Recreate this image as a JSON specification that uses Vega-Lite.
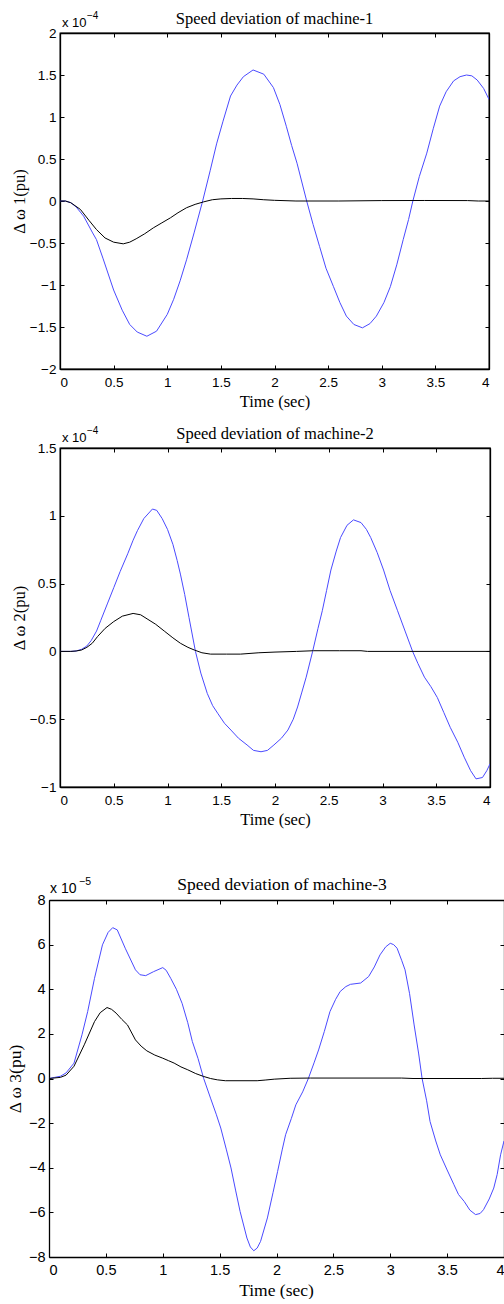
{
  "$schema": "https://vega.github.io/schema/vega-lite/v6.json",
  "background": "white",
  "padding": {"left": 6, "top": 9, "right": 0, "bottom": 0},
  "config": {
    "view": {"stroke": "black", "strokeWidth": 1.3},
    "axis": {
      "labelFont": "Liberation Sans", "labelFontSize": 13.5, "labelColor": "black",
      "titleFont": "Liberation Serif", "titleFontSize": 16.5, "titleFontWeight": "normal", "titleColor": "black",
      "domainColor": "black", "domainWidth": 1.3, "tickColor": "black", "tickSize": -4, "tickWidth": 1,
      "grid": false
    },
    "axisX": {"labelPadding": 10, "titlePadding": 5},
    "axisY": {"labelPadding": 8, "titlePadding": 2},
    "title": {"font": "Liberation Serif", "fontSize": 16.5, "fontWeight": "normal", "color": "black", "offset": -16, "baseline": "alphabetic"}
  },
  "datasets": {
    "m1": [
      {"t": 0, "v": 0, "series": "undamped"}, {"t": 0.05, "v": 0, "series": "undamped"}, {"t": 0.1, "v": -0.02, "series": "undamped"}, {"t": 0.15, "v": -0.07, "series": "undamped"}, {"t": 0.22, "v": -0.18, "series": "undamped"}, {"t": 0.3, "v": -0.37, "series": "undamped"}, {"t": 0.34, "v": -0.46, "series": "undamped"}, {"t": 0.4, "v": -0.68, "series": "undamped"}, {"t": 0.5, "v": -1.06, "series": "undamped"}, {"t": 0.58, "v": -1.3, "series": "undamped"}, {"t": 0.65, "v": -1.47, "series": "undamped"}, {"t": 0.72, "v": -1.56, "series": "undamped"}, {"t": 0.81, "v": -1.61, "series": "undamped"}, {"t": 0.9, "v": -1.55, "series": "undamped"}, {"t": 1.0, "v": -1.35, "series": "undamped"}, {"t": 1.06, "v": -1.17, "series": "undamped"}, {"t": 1.12, "v": -0.95, "series": "undamped"}, {"t": 1.18, "v": -0.7, "series": "undamped"}, {"t": 1.25, "v": -0.38, "series": "undamped"}, {"t": 1.33, "v": 0, "series": "undamped"}, {"t": 1.4, "v": 0.36, "series": "undamped"}, {"t": 1.46, "v": 0.68, "series": "undamped"}, {"t": 1.52, "v": 0.95, "series": "undamped"}, {"t": 1.59, "v": 1.25, "series": "undamped"}, {"t": 1.65, "v": 1.38, "series": "undamped"}, {"t": 1.71, "v": 1.48, "series": "undamped"}, {"t": 1.8, "v": 1.56, "series": "undamped"}, {"t": 1.9, "v": 1.51, "series": "undamped"}, {"t": 1.99, "v": 1.35, "series": "undamped"}, {"t": 2.05, "v": 1.15, "series": "undamped"}, {"t": 2.11, "v": 0.89, "series": "undamped"}, {"t": 2.16, "v": 0.66, "series": "undamped"}, {"t": 2.21, "v": 0.45, "series": "undamped"}, {"t": 2.3, "v": 0, "series": "undamped"}, {"t": 2.36, "v": -0.28, "series": "undamped"}, {"t": 2.42, "v": -0.54, "series": "undamped"}, {"t": 2.48, "v": -0.8, "series": "undamped"}, {"t": 2.55, "v": -1.02, "series": "undamped"}, {"t": 2.61, "v": -1.21, "series": "undamped"}, {"t": 2.67, "v": -1.37, "series": "undamped"}, {"t": 2.74, "v": -1.47, "series": "undamped"}, {"t": 2.82, "v": -1.51, "series": "undamped"}, {"t": 2.89, "v": -1.46, "series": "undamped"}, {"t": 2.95, "v": -1.37, "series": "undamped"}, {"t": 3.02, "v": -1.21, "series": "undamped"}, {"t": 3.08, "v": -1.02, "series": "undamped"}, {"t": 3.14, "v": -0.76, "series": "undamped"}, {"t": 3.2, "v": -0.46, "series": "undamped"}, {"t": 3.25, "v": -0.22, "series": "undamped"}, {"t": 3.29, "v": 0, "series": "undamped"}, {"t": 3.35, "v": 0.29, "series": "undamped"}, {"t": 3.42, "v": 0.57, "series": "undamped"}, {"t": 3.48, "v": 0.86, "series": "undamped"}, {"t": 3.54, "v": 1.13, "series": "undamped"}, {"t": 3.6, "v": 1.3, "series": "undamped"}, {"t": 3.67, "v": 1.43, "series": "undamped"}, {"t": 3.73, "v": 1.48, "series": "undamped"}, {"t": 3.79, "v": 1.5, "series": "undamped"}, {"t": 3.84, "v": 1.49, "series": "undamped"}, {"t": 3.89, "v": 1.44, "series": "undamped"}, {"t": 3.95, "v": 1.34, "series": "undamped"}, {"t": 4.0, "v": 1.21, "series": "undamped"},
      {"t": 0, "v": 0, "series": "damped"}, {"t": 0.05, "v": 0, "series": "damped"}, {"t": 0.1, "v": -0.02, "series": "damped"}, {"t": 0.19, "v": -0.1, "series": "damped"}, {"t": 0.27, "v": -0.23, "series": "damped"}, {"t": 0.34, "v": -0.34, "series": "damped"}, {"t": 0.42, "v": -0.44, "series": "damped"}, {"t": 0.5, "v": -0.49, "series": "damped"}, {"t": 0.59, "v": -0.51, "series": "damped"}, {"t": 0.65, "v": -0.49, "series": "damped"}, {"t": 0.71, "v": -0.45, "series": "damped"}, {"t": 0.79, "v": -0.39, "series": "damped"}, {"t": 0.87, "v": -0.32, "series": "damped"}, {"t": 0.95, "v": -0.26, "series": "damped"}, {"t": 1.03, "v": -0.2, "series": "damped"}, {"t": 1.1, "v": -0.14, "series": "damped"}, {"t": 1.18, "v": -0.08, "series": "damped"}, {"t": 1.26, "v": -0.04, "series": "damped"}, {"t": 1.34, "v": -0.01, "series": "damped"}, {"t": 1.42, "v": 0.015, "series": "damped"}, {"t": 1.5, "v": 0.025, "series": "damped"}, {"t": 1.6, "v": 0.03, "series": "damped"}, {"t": 1.7, "v": 0.03, "series": "damped"}, {"t": 1.8, "v": 0.025, "series": "damped"}, {"t": 1.9, "v": 0.015, "series": "damped"}, {"t": 2.0, "v": 0.008, "series": "damped"}, {"t": 2.2, "v": 0, "series": "damped"}, {"t": 2.6, "v": 0, "series": "damped"}, {"t": 3.0, "v": 0.005, "series": "damped"}, {"t": 3.4, "v": 0.006, "series": "damped"}, {"t": 3.8, "v": 0.005, "series": "damped"}, {"t": 3.9, "v": 0, "series": "damped"}, {"t": 4.0, "v": 0, "series": "damped"}
    ],
    "m2": [
      {"t": 0, "v": 0, "series": "undamped"}, {"t": 0.1, "v": 0, "series": "undamped"}, {"t": 0.15, "v": 0.003, "series": "undamped"}, {"t": 0.2, "v": 0.015, "series": "undamped"}, {"t": 0.25, "v": 0.04, "series": "undamped"}, {"t": 0.29, "v": 0.08, "series": "undamped"}, {"t": 0.34, "v": 0.15, "series": "undamped"}, {"t": 0.38, "v": 0.23, "series": "undamped"}, {"t": 0.44, "v": 0.35, "series": "undamped"}, {"t": 0.5, "v": 0.47, "series": "undamped"}, {"t": 0.56, "v": 0.59, "series": "undamped"}, {"t": 0.63, "v": 0.72, "series": "undamped"}, {"t": 0.68, "v": 0.82, "series": "undamped"}, {"t": 0.72, "v": 0.89, "series": "undamped"}, {"t": 0.78, "v": 0.98, "series": "undamped"}, {"t": 0.86, "v": 1.05, "series": "undamped"}, {"t": 0.9, "v": 1.04, "series": "undamped"}, {"t": 0.95, "v": 0.98, "series": "undamped"}, {"t": 1.0, "v": 0.9, "series": "undamped"}, {"t": 1.05, "v": 0.79, "series": "undamped"}, {"t": 1.09, "v": 0.67, "series": "undamped"}, {"t": 1.12, "v": 0.57, "series": "undamped"}, {"t": 1.16, "v": 0.42, "series": "undamped"}, {"t": 1.2, "v": 0.25, "series": "undamped"}, {"t": 1.26, "v": 0, "series": "undamped"}, {"t": 1.31, "v": -0.16, "series": "undamped"}, {"t": 1.37, "v": -0.31, "series": "undamped"}, {"t": 1.42, "v": -0.4, "series": "undamped"}, {"t": 1.47, "v": -0.46, "series": "undamped"}, {"t": 1.53, "v": -0.53, "series": "undamped"}, {"t": 1.59, "v": -0.58, "series": "undamped"}, {"t": 1.66, "v": -0.64, "series": "undamped"}, {"t": 1.74, "v": -0.69, "series": "undamped"}, {"t": 1.8, "v": -0.73, "series": "undamped"}, {"t": 1.87, "v": -0.74, "series": "undamped"}, {"t": 1.93, "v": -0.73, "series": "undamped"}, {"t": 1.99, "v": -0.69, "series": "undamped"}, {"t": 2.06, "v": -0.64, "series": "undamped"}, {"t": 2.12, "v": -0.58, "series": "undamped"}, {"t": 2.17, "v": -0.5, "series": "undamped"}, {"t": 2.21, "v": -0.41, "series": "undamped"}, {"t": 2.25, "v": -0.3, "series": "undamped"}, {"t": 2.29, "v": -0.19, "series": "undamped"}, {"t": 2.35, "v": 0, "series": "undamped"}, {"t": 2.4, "v": 0.17, "series": "undamped"}, {"t": 2.44, "v": 0.3, "series": "undamped"}, {"t": 2.48, "v": 0.45, "series": "undamped"}, {"t": 2.52, "v": 0.6, "series": "undamped"}, {"t": 2.57, "v": 0.74, "series": "undamped"}, {"t": 2.61, "v": 0.84, "series": "undamped"}, {"t": 2.67, "v": 0.93, "series": "undamped"}, {"t": 2.73, "v": 0.97, "series": "undamped"}, {"t": 2.8, "v": 0.95, "series": "undamped"}, {"t": 2.85, "v": 0.9, "series": "undamped"}, {"t": 2.89, "v": 0.84, "series": "undamped"}, {"t": 2.95, "v": 0.73, "series": "undamped"}, {"t": 3.01, "v": 0.6, "series": "undamped"}, {"t": 3.07, "v": 0.45, "series": "undamped"}, {"t": 3.14, "v": 0.3, "series": "undamped"}, {"t": 3.21, "v": 0.15, "series": "undamped"}, {"t": 3.28, "v": 0, "series": "undamped"}, {"t": 3.33, "v": -0.09, "series": "undamped"}, {"t": 3.39, "v": -0.19, "series": "undamped"}, {"t": 3.45, "v": -0.26, "series": "undamped"}, {"t": 3.51, "v": -0.34, "series": "undamped"}, {"t": 3.57, "v": -0.45, "series": "undamped"}, {"t": 3.63, "v": -0.56, "series": "undamped"}, {"t": 3.7, "v": -0.67, "series": "undamped"}, {"t": 3.76, "v": -0.78, "series": "undamped"}, {"t": 3.82, "v": -0.88, "series": "undamped"}, {"t": 3.87, "v": -0.94, "series": "undamped"}, {"t": 3.93, "v": -0.93, "series": "undamped"}, {"t": 3.97, "v": -0.88, "series": "undamped"}, {"t": 4.0, "v": -0.83, "series": "undamped"},
      {"t": 0, "v": 0, "series": "damped"}, {"t": 0.1, "v": 0, "series": "damped"}, {"t": 0.15, "v": 0.003, "series": "damped"}, {"t": 0.2, "v": 0.01, "series": "damped"}, {"t": 0.25, "v": 0.03, "series": "damped"}, {"t": 0.3, "v": 0.06, "series": "damped"}, {"t": 0.35, "v": 0.11, "series": "damped"}, {"t": 0.42, "v": 0.17, "series": "damped"}, {"t": 0.5, "v": 0.22, "series": "damped"}, {"t": 0.58, "v": 0.26, "series": "damped"}, {"t": 0.68, "v": 0.28, "series": "damped"}, {"t": 0.75, "v": 0.27, "series": "damped"}, {"t": 0.81, "v": 0.24, "series": "damped"}, {"t": 0.89, "v": 0.2, "series": "damped"}, {"t": 0.97, "v": 0.15, "series": "damped"}, {"t": 1.05, "v": 0.1, "series": "damped"}, {"t": 1.12, "v": 0.06, "series": "damped"}, {"t": 1.19, "v": 0.03, "series": "damped"}, {"t": 1.25, "v": 0.01, "series": "damped"}, {"t": 1.32, "v": -0.01, "series": "damped"}, {"t": 1.4, "v": -0.02, "series": "damped"}, {"t": 1.55, "v": -0.02, "series": "damped"}, {"t": 1.68, "v": -0.02, "series": "damped"}, {"t": 1.85, "v": -0.01, "series": "damped"}, {"t": 2.0, "v": -0.005, "series": "damped"}, {"t": 2.2, "v": 0, "series": "damped"}, {"t": 2.36, "v": 0.005, "series": "damped"}, {"t": 2.6, "v": 0.005, "series": "damped"}, {"t": 2.8, "v": 0.005, "series": "damped"}, {"t": 2.86, "v": 0, "series": "damped"}, {"t": 4.0, "v": 0, "series": "damped"}
    ],
    "m3": [
      {"t": 0, "v": 0, "series": "undamped"}, {"t": 0.05, "v": 0.05, "series": "undamped"}, {"t": 0.1, "v": 0.1, "series": "undamped"}, {"t": 0.15, "v": 0.25, "series": "undamped"}, {"t": 0.22, "v": 0.69, "series": "undamped"}, {"t": 0.29, "v": 1.96, "series": "undamped"}, {"t": 0.34, "v": 3.0, "series": "undamped"}, {"t": 0.4, "v": 4.49, "series": "undamped"}, {"t": 0.47, "v": 5.99, "series": "undamped"}, {"t": 0.52, "v": 6.55, "series": "undamped"}, {"t": 0.56, "v": 6.76, "series": "undamped"}, {"t": 0.6, "v": 6.66, "series": "undamped"}, {"t": 0.67, "v": 5.84, "series": "undamped"}, {"t": 0.76, "v": 4.87, "series": "undamped"}, {"t": 0.8, "v": 4.65, "series": "undamped"}, {"t": 0.85, "v": 4.61, "series": "undamped"}, {"t": 0.92, "v": 4.79, "series": "undamped"}, {"t": 1.0, "v": 4.97, "series": "undamped"}, {"t": 1.03, "v": 4.85, "series": "undamped"}, {"t": 1.07, "v": 4.49, "series": "undamped"}, {"t": 1.12, "v": 4.0, "series": "undamped"}, {"t": 1.17, "v": 3.37, "series": "undamped"}, {"t": 1.22, "v": 2.5, "series": "undamped"}, {"t": 1.26, "v": 1.66, "series": "undamped"}, {"t": 1.31, "v": 0.9, "series": "undamped"}, {"t": 1.36, "v": 0, "series": "undamped"}, {"t": 1.42, "v": -0.88, "series": "undamped"}, {"t": 1.47, "v": -1.6, "series": "undamped"}, {"t": 1.51, "v": -2.22, "series": "undamped"}, {"t": 1.56, "v": -3.2, "series": "undamped"}, {"t": 1.6, "v": -4.01, "series": "undamped"}, {"t": 1.64, "v": -5.0, "series": "undamped"}, {"t": 1.68, "v": -5.96, "series": "undamped"}, {"t": 1.74, "v": -7.15, "series": "undamped"}, {"t": 1.77, "v": -7.55, "series": "undamped"}, {"t": 1.8, "v": -7.72, "series": "undamped"}, {"t": 1.83, "v": -7.6, "series": "undamped"}, {"t": 1.86, "v": -7.3, "series": "undamped"}, {"t": 1.92, "v": -6.25, "series": "undamped"}, {"t": 1.97, "v": -5.1, "series": "undamped"}, {"t": 2.01, "v": -4.16, "series": "undamped"}, {"t": 2.05, "v": -3.2, "series": "undamped"}, {"t": 2.08, "v": -2.52, "series": "undamped"}, {"t": 2.13, "v": -1.8, "series": "undamped"}, {"t": 2.17, "v": -1.18, "series": "undamped"}, {"t": 2.23, "v": -0.6, "series": "undamped"}, {"t": 2.28, "v": 0, "series": "undamped"}, {"t": 2.33, "v": 0.7, "series": "undamped"}, {"t": 2.37, "v": 1.28, "series": "undamped"}, {"t": 2.42, "v": 2.1, "series": "undamped"}, {"t": 2.47, "v": 3.0, "series": "undamped"}, {"t": 2.52, "v": 3.55, "series": "undamped"}, {"t": 2.56, "v": 3.9, "series": "undamped"}, {"t": 2.61, "v": 4.12, "series": "undamped"}, {"t": 2.65, "v": 4.22, "series": "undamped"}, {"t": 2.74, "v": 4.28, "series": "undamped"}, {"t": 2.81, "v": 4.57, "series": "undamped"}, {"t": 2.86, "v": 5.0, "series": "undamped"}, {"t": 2.91, "v": 5.54, "series": "undamped"}, {"t": 2.96, "v": 5.9, "series": "undamped"}, {"t": 3.0, "v": 6.06, "series": "undamped"}, {"t": 3.03, "v": 6.0, "series": "undamped"}, {"t": 3.06, "v": 5.84, "series": "undamped"}, {"t": 3.1, "v": 5.3, "series": "undamped"}, {"t": 3.13, "v": 4.87, "series": "undamped"}, {"t": 3.17, "v": 3.8, "series": "undamped"}, {"t": 3.21, "v": 2.4, "series": "undamped"}, {"t": 3.25, "v": 1.1, "series": "undamped"}, {"t": 3.28, "v": 0, "series": "undamped"}, {"t": 3.32, "v": -1.0, "series": "undamped"}, {"t": 3.35, "v": -1.93, "series": "undamped"}, {"t": 3.4, "v": -2.8, "series": "undamped"}, {"t": 3.44, "v": -3.42, "series": "undamped"}, {"t": 3.5, "v": -4.1, "series": "undamped"}, {"t": 3.56, "v": -4.76, "series": "undamped"}, {"t": 3.6, "v": -5.2, "series": "undamped"}, {"t": 3.65, "v": -5.51, "series": "undamped"}, {"t": 3.7, "v": -5.9, "series": "undamped"}, {"t": 3.75, "v": -6.1, "series": "undamped"}, {"t": 3.79, "v": -6.05, "series": "undamped"}, {"t": 3.82, "v": -5.88, "series": "undamped"}, {"t": 3.87, "v": -5.4, "series": "undamped"}, {"t": 3.91, "v": -4.91, "series": "undamped"}, {"t": 3.94, "v": -4.3, "series": "undamped"}, {"t": 3.97, "v": -3.42, "series": "undamped"}, {"t": 4.0, "v": -2.8, "series": "undamped"},
      {"t": 0, "v": 0, "series": "damped"}, {"t": 0.1, "v": 0.05, "series": "damped"}, {"t": 0.15, "v": 0.15, "series": "damped"}, {"t": 0.22, "v": 0.55, "series": "damped"}, {"t": 0.31, "v": 1.51, "series": "damped"}, {"t": 0.4, "v": 2.55, "series": "damped"}, {"t": 0.45, "v": 2.95, "series": "damped"}, {"t": 0.51, "v": 3.18, "series": "damped"}, {"t": 0.55, "v": 3.1, "series": "damped"}, {"t": 0.59, "v": 2.93, "series": "damped"}, {"t": 0.64, "v": 2.65, "series": "damped"}, {"t": 0.69, "v": 2.4, "series": "damped"}, {"t": 0.76, "v": 1.73, "series": "damped"}, {"t": 0.81, "v": 1.45, "series": "damped"}, {"t": 0.86, "v": 1.24, "series": "damped"}, {"t": 0.93, "v": 1.05, "series": "damped"}, {"t": 1.0, "v": 0.91, "series": "damped"}, {"t": 1.05, "v": 0.8, "series": "damped"}, {"t": 1.1, "v": 0.69, "series": "damped"}, {"t": 1.16, "v": 0.52, "series": "damped"}, {"t": 1.22, "v": 0.39, "series": "damped"}, {"t": 1.29, "v": 0.22, "series": "damped"}, {"t": 1.36, "v": 0.09, "series": "damped"}, {"t": 1.42, "v": 0, "series": "damped"}, {"t": 1.48, "v": -0.06, "series": "damped"}, {"t": 1.55, "v": -0.1, "series": "damped"}, {"t": 1.6, "v": -0.1, "series": "damped"}, {"t": 1.83, "v": -0.1, "series": "damped"}, {"t": 1.9, "v": -0.07, "series": "damped"}, {"t": 1.98, "v": -0.03, "series": "damped"}, {"t": 2.12, "v": 0.01, "series": "damped"}, {"t": 2.3, "v": 0.02, "series": "damped"}, {"t": 3.1, "v": 0.02, "series": "damped"}, {"t": 3.2, "v": 0, "series": "damped"}, {"t": 3.8, "v": 0, "series": "damped"}, {"t": 3.9, "v": 0.01, "series": "damped"}, {"t": 4.0, "v": 0.01, "series": "damped"}
    ]
  },
  "columns": 1,
  "align": "none",
  "spacing": 46,
  "concat": [
    {
      "columns": 1,
      "align": "none",
      "spacing": 13,
      "concat": [
        {
          "width": 429, "height": 336,
          "title": {"text": "Speed deviation of machine-1"},
          "layer": [
            {"data": {"name": "m1"}, "transform": [{"filter": "datum.series == 'undamped'"}],
             "mark": {"type": "line", "strokeWidth": 1, "clip": true},
             "encoding": {
               "x": {"field": "t", "type": "quantitative", "scale": {"domain": [0, 4], "nice": false}, "axis": {"values": [0, 0.5, 1, 1.5, 2, 2.5, 3, 3.5, 4], "format": ".1~f", "title": "Time (sec)"}},
               "y": {"field": "v", "type": "quantitative", "scale": {"domain": [-2, 2], "nice": false, "zero": false}, "axis": {"values": [-2, -1.5, -1, -0.5, 0, 0.5, 1, 1.5, 2], "format": ".1~f", "title": "Δ ω 1(pu)"}},
               "color": {"field": "series", "type": "nominal", "scale": {"domain": ["undamped", "damped"], "range": ["#4a4aff", "#000000"]}, "legend": null}
             }},
            {"data": {"name": "m1"}, "transform": [{"filter": "datum.series == 'damped'"}],
             "mark": {"type": "line", "strokeWidth": 1, "clip": true},
             "encoding": {
               "x": {"field": "t", "type": "quantitative", "axis": {"orient": "top", "values": [0, 0.5, 1, 1.5, 2, 2.5, 3, 3.5, 4], "labels": false, "title": null}},
               "y": {"field": "v", "type": "quantitative", "axis": {"orient": "right", "values": [-2, -1.5, -1, -0.5, 0, 0.5, 1, 1.5, 2], "labels": false, "title": null}},
               "color": {"field": "series", "type": "nominal", "legend": null}
             }},
            {"data": {"values": [{}]},
             "mark": {"type": "text", "align": "left", "baseline": "alphabetic", "dx": 2, "dy": -6, "font": "Liberation Sans", "fontSize": 13},
             "encoding": {"x": {"datum": 0, "type": "quantitative", "axis": null}, "y": {"datum": 2, "type": "quantitative", "axis": null}, "text": {"value": "x 10"}}},
            {"data": {"values": [{}]},
             "mark": {"type": "text", "align": "left", "baseline": "alphabetic", "dx": 27, "dy": -14, "font": "Liberation Sans", "fontSize": 10},
             "encoding": {"x": {"datum": 0, "type": "quantitative", "axis": null}, "y": {"datum": 2, "type": "quantitative", "axis": null}, "text": {"value": "−4"}}}
          ],
          "resolve": {"axis": {"x": "independent", "y": "independent"}}
        },
        {
          "width": 430, "height": 339,
          "title": {"text": "Speed deviation of machine-2"},
          "layer": [
            {"data": {"name": "m2"}, "transform": [{"filter": "datum.series == 'undamped'"}],
             "mark": {"type": "line", "strokeWidth": 1, "clip": true},
             "encoding": {
               "x": {"field": "t", "type": "quantitative", "scale": {"domain": [0, 4], "nice": false}, "axis": {"values": [0, 0.5, 1, 1.5, 2, 2.5, 3, 3.5, 4], "format": ".1~f", "title": "Time (sec)"}},
               "y": {"field": "v", "type": "quantitative", "scale": {"domain": [-1, 1.5], "nice": false, "zero": false}, "axis": {"values": [-1, -0.5, 0, 0.5, 1, 1.5], "format": ".1~f", "title": "Δ ω 2(pu)"}},
               "color": {"field": "series", "type": "nominal", "scale": {"domain": ["undamped", "damped"], "range": ["#4a4aff", "#000000"]}, "legend": null}
             }},
            {"data": {"name": "m2"}, "transform": [{"filter": "datum.series == 'damped'"}],
             "mark": {"type": "line", "strokeWidth": 1, "clip": true},
             "encoding": {
               "x": {"field": "t", "type": "quantitative", "axis": {"orient": "top", "values": [0, 0.5, 1, 1.5, 2, 2.5, 3, 3.5, 4], "labels": false, "title": null}},
               "y": {"field": "v", "type": "quantitative", "axis": {"orient": "right", "values": [-1, -0.5, 0, 0.5, 1, 1.5], "labels": false, "title": null}},
               "color": {"field": "series", "type": "nominal", "legend": null}
             }},
            {"data": {"values": [{}]},
             "mark": {"type": "text", "align": "left", "baseline": "alphabetic", "dx": 2, "dy": -6, "font": "Liberation Sans", "fontSize": 13},
             "encoding": {"x": {"datum": 0, "type": "quantitative", "axis": null}, "y": {"datum": 1.5, "type": "quantitative", "axis": null}, "text": {"value": "x 10"}}},
            {"data": {"values": [{}]},
             "mark": {"type": "text", "align": "left", "baseline": "alphabetic", "dx": 27, "dy": -14, "font": "Liberation Sans", "fontSize": 10},
             "encoding": {"x": {"datum": 0, "type": "quantitative", "axis": null}, "y": {"datum": 1.5, "type": "quantitative", "axis": null}, "text": {"value": "−4"}}}
          ],
          "resolve": {"axis": {"x": "independent", "y": "independent"}}
        }
      ]
    },
    {
      "width": 444, "height": 357,
      "view": {"stroke": null},
      "title": {"text": "Speed deviation of machine-3", "fontSize": 17.5},
      "layer": [
        {"data": {"name": "m3"}, "transform": [{"filter": "datum.series == 'undamped'"}],
         "mark": {"type": "line", "strokeWidth": 1, "clip": false},
         "encoding": {
           "x": {"field": "t", "type": "quantitative", "scale": {"domain": [0, 4], "nice": false, "range": [-11, 444]}, "axis": {"values": [0, 0.5, 1, 1.5, 2, 2.5, 3, 3.5, 4], "format": ".1~f", "title": "Time (sec)", "labelFontSize": 14.5, "titleFontSize": 17.5, "titleX": 216}},
           "y": {"field": "v", "type": "quantitative", "scale": {"domain": [-8, 8], "nice": false, "zero": false}, "axis": {"values": [-8, -6, -4, -2, 0, 2, 4, 6, 8], "format": "d", "title": "Δ ω 3(pu)", "labelFontSize": 14.5, "titleFontSize": 17.5, "titlePadding": 4, "offset": 11}},
           "color": {"field": "series", "type": "nominal", "scale": {"domain": ["undamped", "damped"], "range": ["#4a4aff", "#000000"]}, "legend": null}
         }},
        {"data": {"name": "m3"}, "transform": [{"filter": "datum.series == 'damped'"}],
         "mark": {"type": "line", "strokeWidth": 1, "clip": false},
         "encoding": {
           "x": {"field": "t", "type": "quantitative", "axis": {"orient": "top", "values": [0, 0.5, 1, 1.5, 2, 2.5, 3, 3.5, 4], "labels": false, "title": null}},
           "y": {"field": "v", "type": "quantitative", "axis": {"orient": "right", "values": [-8, -6, -4, -2, 0, 2, 4, 6, 8], "labels": false, "title": null}},
           "color": {"field": "series", "type": "nominal", "legend": null}
         }},
        {"data": {"values": [{}]},
         "mark": {"type": "text", "align": "left", "baseline": "alphabetic", "dx": 1, "dy": -7, "font": "Liberation Sans", "fontSize": 14},
         "encoding": {"x": {"datum": 0, "type": "quantitative", "axis": null}, "y": {"datum": 8, "type": "quantitative", "axis": null}, "text": {"value": "x 10"}}},
        {"data": {"values": [{}]},
         "mark": {"type": "text", "align": "left", "baseline": "alphabetic", "dx": 30, "dy": -15, "font": "Liberation Sans", "fontSize": 10.5},
         "encoding": {"x": {"datum": 0, "type": "quantitative", "axis": null}, "y": {"datum": 8, "type": "quantitative", "axis": null}, "text": {"value": "−5"}}}
      ],
      "resolve": {"axis": {"x": "independent", "y": "independent"}}
    }
  ]
}
